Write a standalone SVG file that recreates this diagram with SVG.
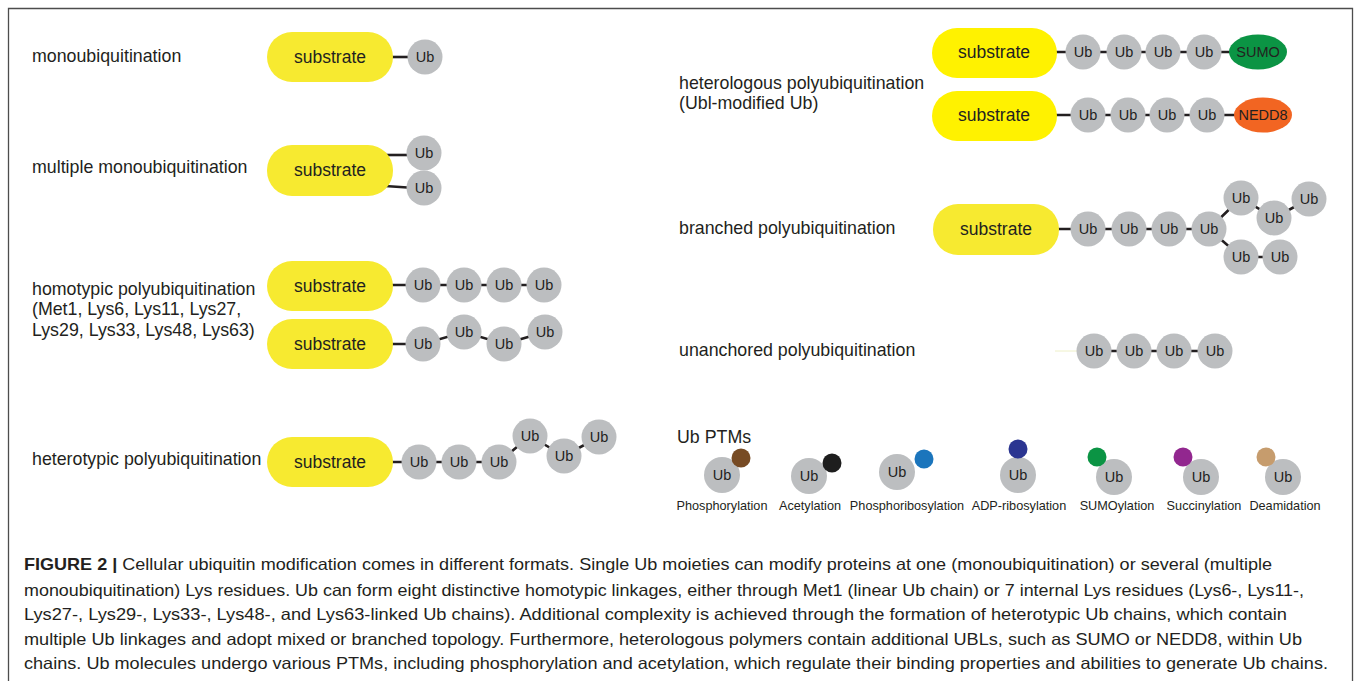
<svg xmlns="http://www.w3.org/2000/svg" width="1357" height="681" viewBox="0 0 1357 681">
<style>
text{font-family:"Liberation Sans",Arial,sans-serif;fill:#231f20}
.lbl{font-size:17.8px}
.sub{fill:#f7ea30}
.sub2{fill:#fff200}
.st{font-size:17.5px;text-anchor:middle}
.ub{fill:#bcbec0}
.ut{font-size:14.5px;text-anchor:middle}
.ptm{font-size:12.7px;text-anchor:middle}
.cap{font-size:16.5px}
.ln{stroke:#231f20;stroke-width:2.6;fill:none}
</style>
<rect width="1357" height="681" fill="#fff"/>
<path d="M8.5,681 V8.5 H1352.5 V681" fill="none" stroke="#4d4d4d" stroke-width="1.3"/>

<g id="connectors" class="ln">
<line x1="385" y1="57" x2="415" y2="57"/>
<line x1="385" y1="155" x2="415" y2="155"/>
<line x1="385" y1="186" x2="415" y2="188"/>
<polyline points="385,285 423,285 464,285 504,285 544,285"/>
<polyline points="385,344 423,344 464,332 504,344 545,332"/>
<polyline points="385,462 419,462 459,462 499,462 530,436 564,456 599,437"/>
<polyline points="1050,52 1083,52 1124,52 1163,52 1204,52 1258,52"/>
<polyline points="1050,115 1088,115 1128,115 1167,115 1207,115 1263,115"/>
<polyline points="1050,229 1088,229 1129,229 1169,229 1209,229 1241,198 1274,218 1309,199"/>
<polyline points="1209,229 1241,257 1280,257"/>
<polyline points="1094,351 1134,351 1174,351 1215,351"/>
<line x1="1055" y1="351" x2="1078" y2="351" stroke="#eef0c8" stroke-width="1"/>
</g>

<text class="lbl" x="32" y="62">monoubiquitination</text>
<text class="lbl" x="32" y="173">multiple monoubiquitination</text>
<text class="lbl" x="32" y="295">homotypic polyubiquitination</text>
<text class="lbl" x="32" y="315">(Met1, Lys6, Lys11, Lys27,</text>
<text class="lbl" x="32" y="336">Lys29, Lys33, Lys48, Lys63)</text>
<text class="lbl" x="32" y="465">heterotypic polyubiquitination</text>
<text class="lbl" x="679" y="89">heterologous polyubiquitination</text>
<text class="lbl" x="679" y="109">(Ubl-modified Ub)</text>
<text class="lbl" x="679" y="234">branched polyubiquitination</text>
<text class="lbl" x="679" y="356">unanchored polyubiquitination</text>
<text class="lbl" x="677" y="443">Ub PTMs</text>

<!-- monoubiquitination -->
<g id="mono-substrate"><rect class="sub" x="267" y="32" width="126" height="50" rx="25"/><text class="st" x="330" y="63">substrate</text></g>
<g id="mono-ub1"><circle class="ub" cx="425" cy="57" r="17.5"/><text class="ut" x="425" y="62">Ub</text></g>

<!-- multiple mono -->
<g id="multi-substrate"><rect class="sub" x="267" y="145" width="126" height="51" rx="25"/><text class="st" x="330" y="176">substrate</text></g>
<g id="multi-ub1"><circle class="ub" cx="424" cy="153" r="17.5"/><text class="ut" x="424" y="158">Ub</text></g>
<g id="multi-ub2"><circle class="ub" cx="424" cy="188" r="17.5"/><text class="ut" x="424" y="193">Ub</text></g>

<!-- homotypic 1 -->
<g id="homo1-substrate"><rect class="sub" x="267" y="261" width="126" height="50" rx="25"/><text class="st" x="330" y="292">substrate</text></g>
<g id="homo1-ub1"><circle class="ub" cx="423" cy="285" r="17.5"/><text class="ut" x="423" y="290">Ub</text></g>
<g id="homo1-ub2"><circle class="ub" cx="464" cy="285" r="17.5"/><text class="ut" x="464" y="290">Ub</text></g>
<g id="homo1-ub3"><circle class="ub" cx="504" cy="285" r="17.5"/><text class="ut" x="504" y="290">Ub</text></g>
<g id="homo1-ub4"><circle class="ub" cx="544" cy="285" r="17.5"/><text class="ut" x="544" y="290">Ub</text></g>

<!-- homotypic 2 -->
<g id="homo2-substrate"><rect class="sub" x="267" y="319" width="126" height="50" rx="25"/><text class="st" x="330" y="350">substrate</text></g>
<g id="homo2-ub1"><circle class="ub" cx="423" cy="344" r="17.5"/><text class="ut" x="423" y="349">Ub</text></g>
<g id="homo2-ub2"><circle class="ub" cx="464" cy="332" r="17.5"/><text class="ut" x="464" y="337">Ub</text></g>
<g id="homo2-ub3"><circle class="ub" cx="504" cy="344" r="17.5"/><text class="ut" x="504" y="349">Ub</text></g>
<g id="homo2-ub4"><circle class="ub" cx="545" cy="332" r="17.5"/><text class="ut" x="545" y="337">Ub</text></g>

<!-- heterotypic -->
<g id="hetero-substrate"><rect class="sub" x="267" y="437" width="126" height="50" rx="25"/><text class="st" x="330" y="468">substrate</text></g>
<g id="hetero-ub1"><circle class="ub" cx="419" cy="462" r="17.5"/><text class="ut" x="419" y="467">Ub</text></g>
<g id="hetero-ub2"><circle class="ub" cx="459" cy="462" r="17.5"/><text class="ut" x="459" y="467">Ub</text></g>
<g id="hetero-ub3"><circle class="ub" cx="499" cy="462" r="17.5"/><text class="ut" x="499" y="467">Ub</text></g>
<g id="hetero-ub4"><circle class="ub" cx="530" cy="436" r="17.5"/><text class="ut" x="530" y="441">Ub</text></g>
<g id="hetero-ub5"><circle class="ub" cx="564" cy="456" r="17.5"/><text class="ut" x="564" y="461">Ub</text></g>
<g id="hetero-ub6"><circle class="ub" cx="599" cy="437" r="17.5"/><text class="ut" x="599" y="442">Ub</text></g>

<!-- heterologous SUMO -->
<g id="sumo-substrate"><rect class="sub2" x="932" y="28" width="125" height="50" rx="25"/><text class="st" x="994" y="58">substrate</text></g>
<g id="sumo-ub1"><circle class="ub" cx="1083" cy="52" r="17.5"/><text class="ut" x="1083" y="57">Ub</text></g>
<g id="sumo-ub2"><circle class="ub" cx="1124" cy="52" r="17.5"/><text class="ut" x="1124" y="57">Ub</text></g>
<g id="sumo-ub3"><circle class="ub" cx="1163" cy="52" r="17.5"/><text class="ut" x="1163" y="57">Ub</text></g>
<g id="sumo-ub4"><circle class="ub" cx="1204" cy="52" r="17.5"/><text class="ut" x="1204" y="57">Ub</text></g>
<g id="sumo"><ellipse cx="1258" cy="52" rx="29" ry="17.5" fill="#0b9444"/><text class="ut" x="1258" y="57">SUMO</text></g>

<!-- heterologous NEDD8 -->
<g id="nedd8-substrate"><rect class="sub2" x="932" y="91" width="125" height="50" rx="25"/><text class="st" x="994" y="121">substrate</text></g>
<g id="nedd8-ub1"><circle class="ub" cx="1088" cy="115" r="17.5"/><text class="ut" x="1088" y="120">Ub</text></g>
<g id="nedd8-ub2"><circle class="ub" cx="1128" cy="115" r="17.5"/><text class="ut" x="1128" y="120">Ub</text></g>
<g id="nedd8-ub3"><circle class="ub" cx="1167" cy="115" r="17.5"/><text class="ut" x="1167" y="120">Ub</text></g>
<g id="nedd8-ub4"><circle class="ub" cx="1207" cy="115" r="17.5"/><text class="ut" x="1207" y="120">Ub</text></g>
<g id="nedd8"><ellipse cx="1263" cy="115" rx="29" ry="17.5" fill="#f26522"/><text class="ut" x="1263" y="120">NEDD8</text></g>

<!-- branched -->
<g id="branch-substrate"><rect class="sub" x="933" y="204" width="126" height="51" rx="25"/><text class="st" x="996" y="235">substrate</text></g>
<g id="branch-ub1"><circle class="ub" cx="1088" cy="229" r="17.5"/><text class="ut" x="1088" y="234">Ub</text></g>
<g id="branch-ub2"><circle class="ub" cx="1129" cy="229" r="17.5"/><text class="ut" x="1129" y="234">Ub</text></g>
<g id="branch-ub3"><circle class="ub" cx="1169" cy="229" r="17.5"/><text class="ut" x="1169" y="234">Ub</text></g>
<g id="branch-ub4"><circle class="ub" cx="1209" cy="229" r="17.5"/><text class="ut" x="1209" y="234">Ub</text></g>
<g id="branch-ub5"><circle class="ub" cx="1241" cy="198" r="17.5"/><text class="ut" x="1241" y="203">Ub</text></g>
<g id="branch-ub6"><circle class="ub" cx="1274" cy="218" r="17.5"/><text class="ut" x="1274" y="223">Ub</text></g>
<g id="branch-ub7"><circle class="ub" cx="1309" cy="199" r="17.5"/><text class="ut" x="1309" y="204">Ub</text></g>
<g id="branch-ub8"><circle class="ub" cx="1241" cy="257" r="17.5"/><text class="ut" x="1241" y="262">Ub</text></g>
<g id="branch-ub9"><circle class="ub" cx="1280" cy="257" r="17.5"/><text class="ut" x="1280" y="262">Ub</text></g>

<!-- unanchored -->
<g id="unanch-ub1"><circle class="ub" cx="1094" cy="351" r="17.5"/><text class="ut" x="1094" y="356">Ub</text></g>
<g id="unanch-ub2"><circle class="ub" cx="1134" cy="351" r="17.5"/><text class="ut" x="1134" y="356">Ub</text></g>
<g id="unanch-ub3"><circle class="ub" cx="1174" cy="351" r="17.5"/><text class="ut" x="1174" y="356">Ub</text></g>
<g id="unanch-ub4"><circle class="ub" cx="1215" cy="351" r="17.5"/><text class="ut" x="1215" y="356">Ub</text></g>

<!-- PTMs -->
<g id="ptm-phos"><circle class="ub" cx="722" cy="475" r="18"/><circle cx="741" cy="458" r="9.5" fill="#774b24"/><text class="ut" x="722" y="480">Ub</text><text class="ptm" x="722" y="510">Phosphorylation</text></g>
<g id="ptm-acet"><circle class="ub" cx="809" cy="476" r="18"/><circle cx="832" cy="463" r="9.5" fill="#1e1e1e"/><text class="ut" x="809" y="481">Ub</text><text class="ptm" x="810" y="510">Acetylation</text></g>
<g id="ptm-phosrib"><circle class="ub" cx="897" cy="472" r="18"/><circle cx="924" cy="459" r="9.5" fill="#1b75bc"/><text class="ut" x="897" y="477">Ub</text><text class="ptm" x="907" y="510">Phosphoribosylation</text></g>
<g id="ptm-adp"><circle class="ub" cx="1018" cy="475" r="18"/><circle cx="1018" cy="449" r="9.5" fill="#2b3591"/><text class="ut" x="1018" y="480">Ub</text><text class="ptm" x="1019" y="510">ADP-ribosylation</text></g>
<g id="ptm-sumo"><circle class="ub" cx="1114" cy="477" r="18"/><circle cx="1097" cy="457" r="9.5" fill="#0b9444"/><text class="ut" x="1114" y="482">Ub</text><text class="ptm" x="1117" y="510">SUMOylation</text></g>
<g id="ptm-succ"><circle class="ub" cx="1201" cy="477" r="18"/><circle cx="1183" cy="457" r="9.5" fill="#92278f"/><text class="ut" x="1201" y="482">Ub</text><text class="ptm" x="1204" y="510">Succinylation</text></g>
<g id="ptm-deam"><circle class="ub" cx="1283" cy="477" r="18"/><circle cx="1266" cy="457" r="9.5" fill="#c69c6d"/><text class="ut" x="1283" y="482">Ub</text><text class="ptm" x="1285" y="510">Deamidation</text></g>

<!-- caption -->
<g id="caption" class="cap">
<text x="24" y="570" textLength="1248" lengthAdjust="spacingAndGlyphs"><tspan font-weight="bold">FIGURE 2 |</tspan> Cellular ubiquitin modification comes in different formats. Single Ub moieties can modify proteins at one (monoubiquitination) or several (multiple</text>
<text x="24" y="596" textLength="1280" lengthAdjust="spacingAndGlyphs">monoubiquitination) Lys residues. Ub can form eight distinctive homotypic linkages, either through Met1 (linear Ub chain) or 7 internal Lys residues (Lys6-, Lys11-,</text>
<text x="24" y="620" textLength="1263" lengthAdjust="spacingAndGlyphs">Lys27-, Lys29-, Lys33-, Lys48-, and Lys63-linked Ub chains). Additional complexity is achieved through the formation of heterotypic Ub chains, which contain</text>
<text x="24" y="645" textLength="1278" lengthAdjust="spacingAndGlyphs">multiple Ub linkages and adopt mixed or branched topology. Furthermore, heterologous polymers contain additional UBLs, such as SUMO or NEDD8, within Ub</text>
<text x="24" y="669" textLength="1304" lengthAdjust="spacingAndGlyphs">chains. Ub molecules undergo various PTMs, including phosphorylation and acetylation, which regulate their binding properties and abilities to generate Ub chains.</text>
</g>
</svg>
